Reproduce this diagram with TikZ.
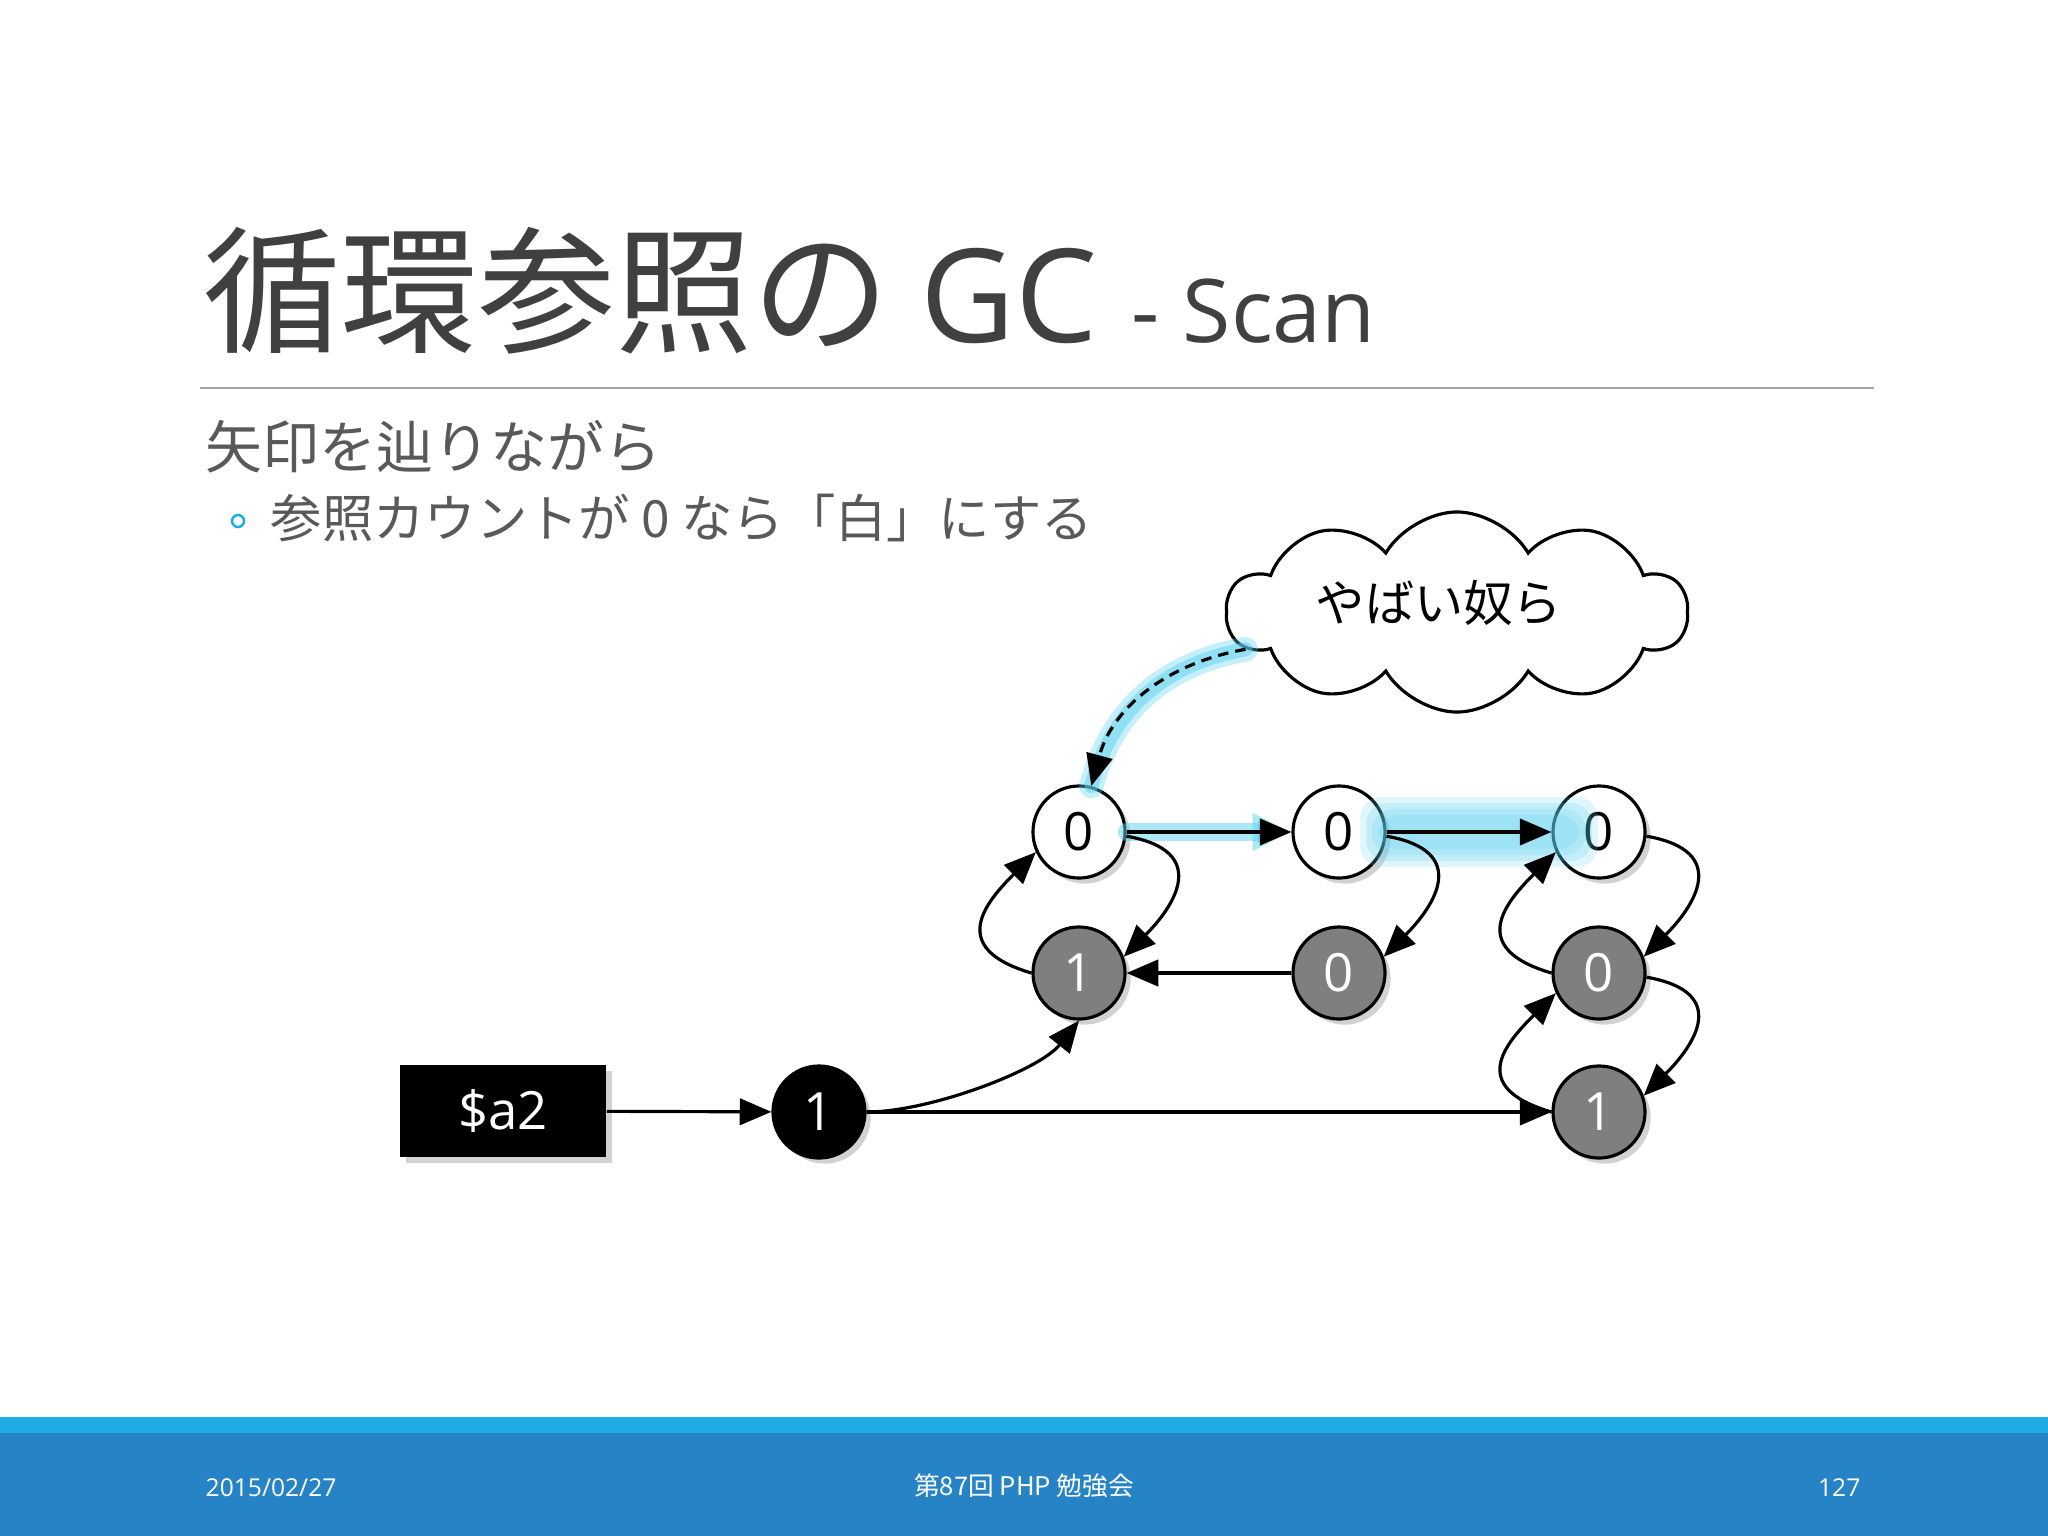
\documentclass[tikz,border=0pt]{standalone}
\usepackage{fontspec}
\setmainfont{Open Sans}
\newfontfamily\jp{Noto Sans CJK JP}
\usetikzlibrary{arrows.meta,shapes.symbols,shadows}
\definecolor{titlegray}{HTML}{404040}
\definecolor{subgray}{HTML}{595959}
\definecolor{nodegray}{HTML}{7F7F7F}
\definecolor{glowcyan}{HTML}{5AD2F0}
\definecolor{bulletblue}{HTML}{1CADE4}
\definecolor{barlight}{HTML}{1DADE4}
\definecolor{bardark}{HTML}{2683C6}
\definecolor{rulegray}{HTML}{A6A6A6}
\begin{document}
\begin{tikzpicture}[x=0.01cm,y=0.01cm,
  every node/.style={inner sep=0pt},
  cnode/.style={circle, draw=black, line width=0.9pt, minimum size=0.92cm,
    font=\fontsize{15}{15}\selectfont,
    drop shadow={shadow xshift=1.6pt,shadow yshift=-1.6pt,opacity=0.35}},
  wnode/.style={cnode, fill=white, text=black},
  gnode/.style={cnode, fill=nodegray, text=white},
  bnode/.style={cnode, fill=black, text=white},
  conn/.style={draw=black, line width=0.9pt, -{Triangle[length=9pt,width=7.5pt]}},
  glowline/.style={draw=glowcyan, opacity=0.5, line cap=round},
]
\useasboundingbox (0,0) rectangle (2048,-1536);
\fill[white] (0,0) rectangle (2048,-1536);

% footer
\fill[barlight] (0,-1417) rectangle (2048,-1434);
\fill[bardark] (0,-1433) rectangle (2048,-1536);
\node[anchor=west, text=white, font=\fontsize{7}{7}\selectfont] (date) at (205,-1488) {2015/02/27};
\node[text=white, font=\jp\fontsize{7.3}{7.3}\selectfont] (event) at (1024,-1486) {第87回 PHP 勉強会};
\node[anchor=east, text=white, font=\fontsize{7}{7}\selectfont] (page) at (1861,-1488) {127};

% title
\node[anchor=base west, text=titlegray, font=\jp\fontsize{39}{39}\selectfont] (t1) at (203,-342) {循環参照の};
\node[anchor=base west, text=titlegray, font=\fontsize{37}{37}\selectfont] (t2) at (920,-342) {GC};
\node[anchor=base west, text=titlegray, font=\fontsize{25}{25}\selectfont] (t3) at (1131,-342) {- Scan};
\draw[rulegray, line width=0.6pt] (200,-388) -- (1874,-388);

% body text
\node[anchor=west, text=subgray, font=\jp\fontsize{16.2}{16.2}\selectfont] (l1) at (205,-447) {矢印を辿りながら};
\node[circle, draw=bulletblue, line width=0.7pt, minimum size=0.12cm] (bul) at (238,-521) {};
\node[anchor=west, text=subgray, font=\jp\fontsize{14.6}{14.6}\selectfont] (l2) at (270,-518) {参照カウントが 0 なら「白」にする};

% cloud
\node[cloud, draw=black, fill=white, line width=0.9pt, cloud puffs=10, cloud puff arc=120,
  aspect=2.3, minimum width=4.6cm, minimum height=2.0cm] (cloud) at (1457,-612) {};
\node[font=\jp\fontsize{14}{14}\selectfont] (cloudtext) at (1439,-603) {やばい奴ら};

% nodes
\node[rectangle, fill=black, text=white, minimum width=2.06cm, minimum height=0.92cm,
  font=\fontsize{15}{15}\selectfont,
  drop shadow={shadow xshift=1.6pt,shadow yshift=-1.6pt,opacity=0.35}] (a2) at (503,-1111) {\$a2};
\node[bnode] (H) at (819,-1112) {1};
\node[wnode] (A) at (1079,-832) {0};
\node[wnode] (B) at (1339,-832) {0};
\node[wnode] (C) at (1599,-832) {0};
\node[gnode] (D) at (1079,-973) {1};
\node[gnode] (E) at (1339,-973) {0};
\node[gnode] (F) at (1599,-973) {0};
\node[gnode] (G) at (1599,-1112) {1};

% glows
\draw[glowline, line width=7pt, opacity=0.35] (cloud) to[out=190,in=75] (A);
\draw[glowline, line width=4pt] (cloud) to[out=190,in=75] (A);
\draw[glowline, line width=5pt, -{Triangle[length=11pt,width=10pt]}] (A) -- (B);
\foreach \d in {0,6,12,18}
  \fill[glowcyan, opacity=0.2, rounded corners=6pt] (1360+\d,-797-\d) rectangle (1598-\d,-867+\d);

% connectors
\draw[conn] (a2) -- (H);
\draw[conn] (H) .. controls +(110,0) and +(-40,-50) .. (D.south);
\draw[conn] (H) -- (G);
\draw[conn] (A) -- (B);
\draw[conn] (B) -- (C);
\draw[conn] (E) -- (D);
% right loops
\draw[conn] (A.-5) .. controls +(85,-15) and +(50,50) .. (D.20);
\draw[conn] (B.-5) .. controls +(85,-15) and +(50,50) .. (E.20);
\draw[conn] (C.-5) .. controls +(85,-15) and +(50,50) .. (F.20);
\draw[conn] (F.-5) .. controls +(85,-15) and +(50,50) .. (G.20);
% left loops
\draw[conn] (D.180) .. controls +(-85,25) and +(-50,-50) .. (A.205);
\draw[conn] (F.180) .. controls +(-85,25) and +(-50,-50) .. (C.205);
\draw[conn] (G.180) .. controls +(-85,25) and +(-50,-50) .. (F.205);
\draw[conn, dash pattern=on 3pt off 2pt] (cloud) to[out=190,in=75] (A);
\end{tikzpicture}
\end{document}
